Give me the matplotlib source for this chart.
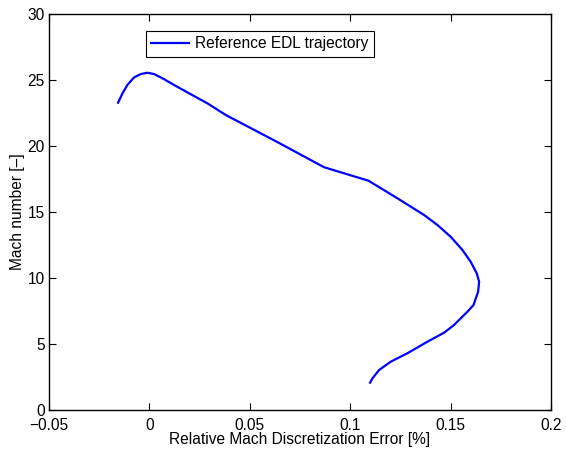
import matplotlib
matplotlib.use("Agg")
import matplotlib.pyplot as plt

plt.rcParams['font.family'] = ['Liberation Sans', 'DejaVu Sans']

error_pct = [-0.0156, -0.0134, -0.0110, -0.0076, -0.0043, -0.0010, 0.0023, 0.0065,
             0.0123, 0.0206, 0.0289, 0.0380, 0.0637, 0.0870, 0.1091, 0.1235,
             0.1368, 0.1434, 0.1500, 0.1559, 0.1600, 0.1630, 0.1642, 0.1637,
             0.1614, 0.1584, 0.1517, 0.1468, 0.1384, 0.1285, 0.1202, 0.1144,
             0.1111, 0.1099]
mach = [23.28, 23.99, 24.62, 25.20, 25.45, 25.55, 25.45, 25.13,
        24.62, 23.92, 23.23, 22.35, 20.30, 18.39, 17.37, 16.04,
        14.77, 14.02, 13.13, 12.12, 11.23, 10.36, 9.72, 8.96,
        7.95, 7.45, 6.44, 5.86, 5.17, 4.30, 3.66, 3.03,
        2.40, 2.07]

xticks = [-0.05, 0, 0.05, 0.1, 0.15, 0.2]
xticklabels = ['\u22120.05', '0', '0.05', '0.1', '0.15', '0.2']
yticks = [0, 5, 10, 15, 20, 25, 30]

fs = 11.2
fig = plt.figure(figsize=(5.66, 4.5), dpi=100)
ax = fig.add_axes([0.0866, 0.0889, 0.8869, 0.88])
ax.plot(error_pct, mach, color='#0000ff', lw=1.6, label='Reference EDL trajectory',
        solid_joinstyle='round')
ax.set_xlim(-0.05, 0.2)
ax.set_ylim(0, 30)
ax.set_xticks(xticks)
ax.set_xticklabels(xticklabels)
ax.set_yticks(yticks)
ax.tick_params(direction='in', top=True, right=True, labelsize=fs, length=5, width=0.8)
ax.tick_params(axis='x', pad=6)
ax.tick_params(axis='y', pad=3)
for s in ax.spines.values():
    s.set_linewidth(1.0)
ax.set_xlabel('Relative Mach Discretization Error [%]', fontsize=fs, labelpad=-1)
ax.set_ylabel('Mach number [\u2013]', fontsize=fs, labelpad=2)
leg = ax.legend(loc='upper left', bbox_to_anchor=(0.193, 0.958), fontsize=fs,
                fancybox=False, framealpha=1, edgecolor='black', borderpad=0.35,
                handlelength=2.4, handletextpad=0.4, borderaxespad=0)
leg.get_frame().set_linewidth(0.8)
fig.savefig('out.png', dpi=100)
